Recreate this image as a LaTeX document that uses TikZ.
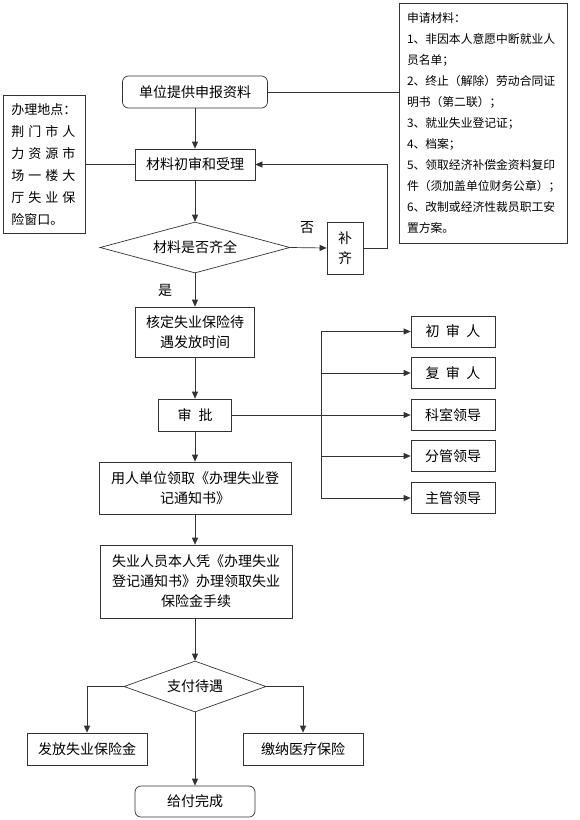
\documentclass[tikz,border=0pt]{standalone}
\usepackage{fontspec}
\setmainfont{Noto Sans CJK SC}
\usetikzlibrary{shapes.geometric,arrows.meta,positioning}

\newcommand{\spreadline}[1]{\makebox[64pt][s]{#1}}

\tikzset{
  box/.style    = {draw=black!80, line width=0.7pt, rectangle, inner sep=1pt,
                   align=center, font=\fontsize{14}{20}\selectfont},
  rbox/.style   = {box, rounded corners=6pt},
  choice/.style = {box, diamond, inner sep=0pt},
  arr/.style    = {draw=black!80, line width=0.7pt, -{Triangle[length=7pt,width=6pt]}},
  link/.style   = {draw=black!80, line width=0.7pt},
  tag/.style    = {font=\fontsize{14}{16}\selectfont, inner sep=0pt},
}

\begin{document}
\begin{tikzpicture}[x=1pt, y=-1pt]
    \useasboundingbox (0,0) rectangle (580,820);
    % main column
    \node [rbox, minimum width=145pt, minimum height=32pt]   (start)   at (195,92)    {单位提供申报资料};
    \node [box, minimum width=120pt, minimum height=31pt]    (accept)  at (195,164.5) {材料初审和受理};
    \node [choice, aspect=3.7, minimum width=190pt, minimum height=51pt] (check) at (195,247.5) {材料是否齐全};
    \node [box, minimum width=36pt, minimum height=52pt]     (supply)  at (345,248)   {补\\齐};
    \node [box, minimum width=119pt, minimum height=50pt]    (confirm) at (195,332)   {核定失业保险待\\遇发放时间};
    \node [box, minimum width=73pt, minimum height=32pt]     (approve) at (195,415)   {审\hspace{0.5em}批};
    \node [box, minimum width=192pt, minimum height=52pt]    (notice)  at (195,488)   {用人单位领取《办理失业登\\记通知书》};
    \node [box, minimum width=192pt, minimum height=73pt]    (claim)   at (196,581.5) {失业人员本人凭《办理失业\\登记通知书》办理领取失业\\保险金手续};
    \node [choice, aspect=2.8, minimum width=142pt, minimum height=51pt] (pay) at (195,686.5) {支付待遇};
    \node [box, minimum width=120pt, minimum height=32pt]    (benefit) at (87,749)    {发放失业保险金};
    \node [box, minimum width=120pt, minimum height=32pt]    (medical) at (303,749)   {缴纳医疗保险};
    \node [rbox, minimum width=120pt, minimum height=31pt]   (done)    at (195,801.5) {给付完成};
    % side notes
    \node [box, align=left, text width=66pt, minimum height=135pt, inner sep=8pt,
           font=\fontsize{13}{22}\selectfont]              (place)   at (44.5,164.5)
          {办理地点：\\ \spreadline{荆\hfil 门\hfil 市\hfil 人}\\ \spreadline{力\hfil 资\hfil 源\hfil 市}\\
           \spreadline{场\hfil 一\hfil 楼\hfil 大}\\ \spreadline{厅\hfil 失\hfil 业\hfil 保}\\ 险窗口。};
    \node [box, align=left, text width=152pt, minimum width=168pt, minimum height=240pt, inner sep=8pt,
           font=\fontsize{11.8}{21}\selectfont]            (papers)  at (483,123)
          {申请材料：\\1、非因本人意愿中断就业人\\员名单；\\2、终止（解除）劳动合同证\\明书（第二联）；\\
           3、就业失业登记证；\\4、档案；\\5、领取经济补偿金资料复印\\件（须加盖单位财务公章）；\\
           6、改制或经济性裁员职工安\\置方案。};
    % approvers
    \node [box, minimum width=84pt, minimum height=31pt]     (first)   at (453,331.5) {初\hspace{0.45em}审\hspace{0.45em}人};
    \node [box, minimum width=84pt, minimum height=31pt]     (second)  at (453,373)   {复\hspace{0.45em}审\hspace{0.45em}人};
    \node [box, minimum width=84pt, minimum height=31pt]     (section) at (453,415)   {科室领导};
    \node [box, minimum width=84pt, minimum height=31pt]     (branch)  at (453,456)   {分管领导};
    \node [box, minimum width=84pt, minimum height=31pt]     (chief)   at (453,498)   {主管领导};
    \node [tag]                                              (no)      at (307,228)   {否};
    \node [tag]                                              (yes)     at (165,290)   {是};
    \coordinate (fork) at (321,415);
    % connectors
    \draw [link] (start.east)   -- (start.east -| papers.west);
    \draw [link] (place.east)   -- (accept.west);
    \draw [arr]  (start)        -- (accept);
    \draw [arr]  (accept)       -- (check);
    \draw [arr]  (check.east)   -- (supply.west);
    \draw [arr]  (supply.east)  -- ++(24,0) |- (accept.east);
    \draw [arr]  (check)        -- (confirm);
    \draw [arr]  (confirm)      -- (approve);
    \draw [link] (approve.east) -- (fork);
    \draw [link] (fork |- first) -- (fork |- chief);
    \draw [arr]  (fork |- first)   -- (first.west);
    \draw [arr]  (fork |- second)  -- (second.west);
    \draw [arr]  (fork)            -- (section.west);
    \draw [arr]  (fork |- branch)  -- (branch.west);
    \draw [arr]  (fork |- chief)   -- (chief.west);
    \draw [arr]  (approve)      -- (notice);
    \draw [arr]  (notice)       -- (claim.north -| notice);
    \draw [arr]  (claim.south -| pay) -- (pay);
    \draw [arr]  (pay.west)     -| (benefit.north);
    \draw [arr]  (pay.east)     -| (medical.north);
    \draw [arr]  (pay)          -- (done);
\end{tikzpicture}
\end{document}
